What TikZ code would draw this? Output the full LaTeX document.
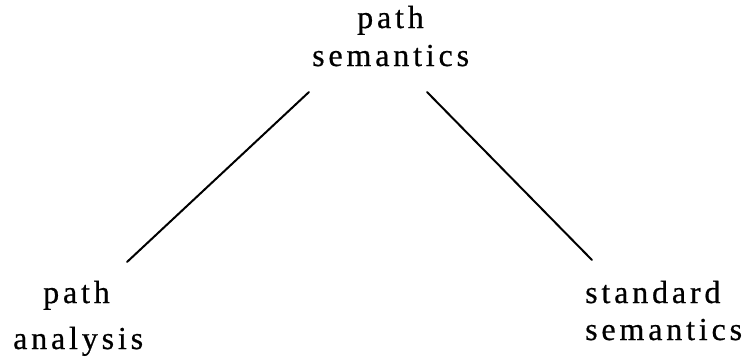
\documentclass[tikz,border=0pt]{standalone}
\usepackage{fontspec}
\setmainfont{Liberation Serif}
\newfontfamily\spaced[LetterSpace=12,FakeBold=0.6]{Liberation Serif}
\begin{document}
\begin{tikzpicture}[x=1pt,y=-1pt,
  lbl/.style={anchor=base west,inner sep=0pt,font=\spaced\fontsize{32}{38}\selectfont},
  edge/.style={line width=2pt,line cap=round}]
\useasboundingbox (0,0) rectangle (748,360);
% top label
\node[lbl] (t1) at (357,28) {path};
\node[lbl] (t2) at (312,66) {semantics};
% left label
\node[lbl] (l1) at (43,303) {path};
\node[lbl] (l2) at (13,349) {analysis};
% right label
\node[lbl] (r1) at (585,303) {standard};
\node[lbl] (r2) at (585,340) {semantics};
% connectors
\coordinate (a1) at (309,92);
\coordinate (a2) at (127,262);
\coordinate (b1) at (427,92);
\coordinate (b2) at (592,260);
\draw[edge] (a1) -- (a2);
\draw[edge] (b1) -- (b2);
\end{tikzpicture}
\end{document}
